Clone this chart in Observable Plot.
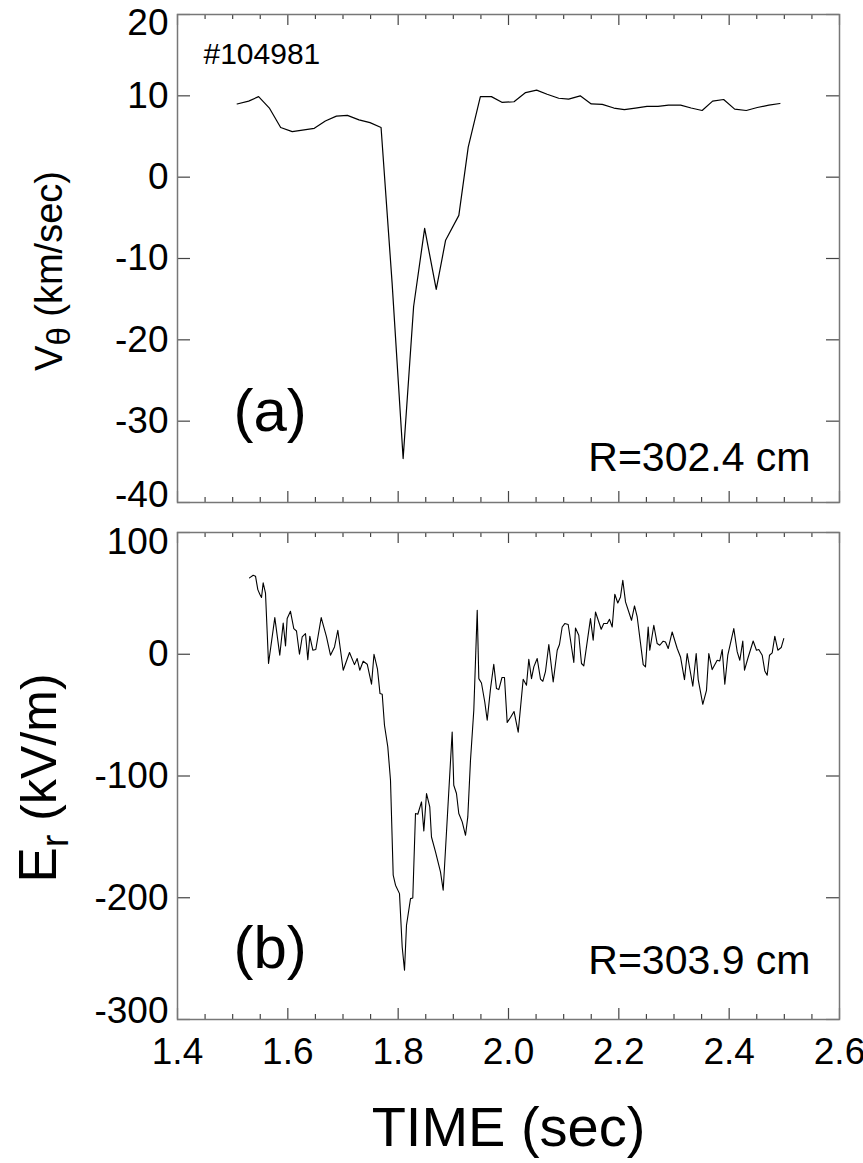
<!DOCTYPE html>
<html>
<head>
<meta charset="utf-8">
<script src="https://cdn.jsdelivr.net/npm/d3@7"></script>
<script src="https://cdn.jsdelivr.net/npm/@observablehq/plot@0.6"></script>
<style>
  html, body { margin: 0; padding: 0; background: #fff; }
  #chart svg { display: block; }
</style>
</head>
<body>
<div id="chart"></div>
<script>
// ---- Data ----
const shotLabel = "#104981";

// Panel (a): poloidal rotation velocity V_theta (km/sec) vs time (sec)
const vTime = [1.508, 1.529, 1.547, 1.567, 1.587, 1.608, 1.648, 1.668, 1.688, 1.708,
  1.729, 1.749, 1.769, 1.789, 1.809, 1.828, 1.848, 1.869, 1.886, 1.910,
  1.927, 1.949, 1.969, 1.988, 2.010, 2.031, 2.051, 2.070, 2.091, 2.109,
  2.130, 2.150, 2.170, 2.191, 2.210, 2.230, 2.251, 2.271, 2.290, 2.312,
  2.331, 2.351, 2.370, 2.390, 2.410, 2.431, 2.451, 2.472, 2.492];
const vTheta = [9.0, 9.35, 9.9, 8.45, 6.1, 5.6, 6.0, 6.9, 7.5, 7.6,
  7.05, 6.7, 6.1, -13, -34.6, -15.9, -6.3, -13.8, -7.75, -4.7,
  3.7, 9.9, 9.9, 9.2, 9.27, 10.4, 10.7, 10.2, 9.7, 9.6,
  10.0, 9.0, 8.95, 8.5, 8.3, 8.5, 8.7, 8.7, 8.85, 8.85,
  8.5, 8.2, 9.35, 9.55, 8.36, 8.2, 8.57, 8.85, 9.06];

// Panel (b): radial electric field E_r (kV/m) vs time (sec)
const eTime = [1.5305, 1.5372, 1.5414, 1.5456, 1.5492, 1.5523, 1.5553, 1.5595, 1.5650, 1.5764,
  1.5854, 1.5916, 1.5958, 1.5988, 1.6048, 1.6108, 1.6157, 1.6211, 1.6260, 1.6320,
  1.6362, 1.6398, 1.6453, 1.6507, 1.6605, 1.6701, 1.6773, 1.6846, 1.6906, 1.7004,
  1.7118, 1.7208, 1.7257, 1.7304, 1.7366, 1.7439, 1.7517, 1.7562, 1.7625, 1.7671,
  1.7711, 1.7752, 1.7812, 1.7861, 1.7910, 1.7952, 1.8024, 1.8073, 1.8115, 1.8151,
  1.8224, 1.8265, 1.8314, 1.8356, 1.8423, 1.8465, 1.8514, 1.8573, 1.8604, 1.8677,
  1.8767, 1.8816, 1.8979, 1.9008, 1.9057, 1.9099, 1.9161, 1.9221, 1.9262, 1.9311,
  1.9371, 1.9433, 1.9462, 1.9510, 1.9570, 1.9614, 1.9674, 1.9733, 1.9782, 1.9824,
  1.9882, 1.9927, 1.9976, 2.0036, 2.0100, 2.0176, 2.0266, 2.0326, 2.0368, 2.0417,
  2.0459, 2.0520, 2.0580, 2.0622, 2.0671, 2.0731, 2.0810, 2.0883, 2.0924, 2.0973,
  2.1020, 2.1082, 2.1184, 2.1214, 2.1274, 2.1323, 2.1365, 2.1486, 2.1535, 2.1577,
  2.1637, 2.1680, 2.1727, 2.1789, 2.1831, 2.1880, 2.1927, 2.1981, 2.2030, 2.2072,
  2.2121, 2.2230, 2.2284, 2.2333, 2.2442, 2.2483, 2.2532, 2.2561, 2.2634, 2.2695,
  2.2742, 2.2804, 2.2846, 2.2895, 2.2967, 2.3058, 2.3118, 2.3190, 2.3239, 2.3341,
  2.3402, 2.3439, 2.3522, 2.3589, 2.3631, 2.3692, 2.3783, 2.3830, 2.3874, 2.3921,
  2.3975, 2.4084, 2.4146, 2.4193, 2.4247, 2.4278, 2.4338, 2.4435, 2.4495, 2.4537,
  2.4599, 2.4646, 2.4689, 2.4731, 2.4780, 2.4827, 2.4882, 2.4943, 2.4990];
const eField = [62.7, 64.9, 64.1, 53.1, 49.3, 46.6, 58.6, 50.3, -7.6, 30.1,
  -0.8, 25.7, 6.8, 29.3, 35.3, 21.1, 19.1, 0, 14.2, 17,
  -4.4, 14.8, 3.3, 3.9, 30.1, 14.2, -0.8, 6, 19.7, -13.1,
  1.4, -8.5, -3.5, -13.1, -5.7, -8.2, -24.6, 0, -12.3, -32.3,
  -32.9, -58.3, -76.1, -103.5, -181.5, -189.7, -196.6, -240.4, -259.5, -222.6,
  -200.7, -200.2, -130.8, -131.4, -121.3, -145.1, -114.4, -125.4, -150.1, -162.4,
  -178.8, -193.8, -63.8, -107.6, -114.4, -130.8, -137.7, -148.7, -133.6, -87.1,
  -46, 36.1, -20, -23.6, -39.2, -54.2, -28.2, -8.2, -28.2, -29,
  -19.1, -19.1, -56, -52, -47, -64, -20.5, -25.5, -4.1, -20,
  -10.4, -3.5, -20.5, -22.2, -14, 8, -22.8, 3.3, 8, 22.4,
  25.2, 24.4, -6.8, 21.6, 15.6, -7.6, -9.6, 29.3, 11.5, 34.7,
  26.5, 20.5, 25.2, 25.2, 28.7, 22.4, 49.3, 42.1, 47.1, 60.8,
  43, 27.9, 39.7, 30.6, -8.5, -10.4, 22.4, 3.3, 23.8, 8.8,
  7.4, 10.7, 10.1, 4.7, 18.3, 4.7, -2.2, -20.8, 0.6, -26.3,
  0.6, -20.8, -41.1, -29.6, 0.6, -12.6, -4.9, -5.5, 3.9, -24.6,
  -0.8, 21.1, 1.9, -4.9, 10.9, -13.1, -3.5, 10.9, 3.3, 3.9,
  -0.8, -13.7, -17.2, -0.8, 1.1, 14.8, 3.3, 5.5, 12.9];

// Axis ticks
const xMajorTicks = [1.4, 1.6, 1.8, 2.0, 2.2, 2.4, 2.6];
const xMinorTicks = [1.45, 1.5, 1.55, 1.65, 1.7, 1.75, 1.85, 1.9, 1.95, 2.05, 2.1, 2.15,
  2.25, 2.3, 2.35, 2.45, 2.5, 2.55];
const vTicks = [-40, -30, -20, -10, 0, 10, 20];
const eTicks = [-300, -200, -100, 0, 100];

// Panel text
const panelA = {tag: "(a)", radius: "R=302.4 cm"};
const panelB = {tag: "(b)", radius: "R=303.9 cm"};
const xTitle = "TIME (sec)";

// ---- Drawing ----
const FONT = "'Liberation Sans', Arial, Helvetica, sans-serif";
const W = 863, ML = 177, MR = 24;
const FW = W - ML - MR;
const FRAME = "#777";
const TICK = "#444";

const vData = vTime.map((t, i) => ({t, v: vTheta[i]}));
const eData = eTime.map((t, i) => ({t, v: eField[i]}));

function frameTicks(yTicks, FH) {
  return [
    Plot.tickY(yTicks, {y: d => d, insetRight: FW - 13, stroke: TICK, strokeWidth: 1.2}),
    Plot.tickY(yTicks, {y: d => d, insetLeft: FW - 13, stroke: TICK, strokeWidth: 1.2}),
    Plot.tickX(xMajorTicks, {x: d => d, insetTop: FH - 11, stroke: TICK, strokeWidth: 1.2}),
    Plot.tickX(xMajorTicks, {x: d => d, insetBottom: FH - 11, stroke: TICK, strokeWidth: 1.2}),
    Plot.tickX(xMinorTicks, {x: d => d, insetTop: FH - 5, stroke: TICK, strokeWidth: 1.2}),
    Plot.tickX(xMinorTicks, {x: d => d, insetBottom: FH - 5, stroke: TICK, strokeWidth: 1.2}),
    Plot.frame({stroke: FRAME, strokeWidth: 1.5})
  ];
}

// y tick labels: the end labels sit slightly inside the frame, as in the reference
function yLabels(ticks, topShift, bottomShift) {
  const lo = d3.min(ticks), hi = d3.max(ticks);
  const common = {anchor: "left", tickSize: 0, tickPadding: 9, tickFormat: d => String(d), label: null, fontSize: 37};
  return [
    Plot.axisY(ticks.filter(d => d !== lo && d !== hi), common),
    Plot.axisY([hi], {...common, dy: topShift}),
    Plot.axisY([lo], {...common, dy: bottomShift})
  ];
}

// Top panel
const topH = 520, topMT = 14, topMB = 18;
const topFH = topH - topMT - topMB;
const topPlot = Plot.plot({
  width: W, height: topH,
  marginLeft: ML, marginRight: MR, marginTop: topMT, marginBottom: topMB,
  style: {fontFamily: FONT, fontSize: "37px", background: "#fff", color: "#000", overflow: "visible"},
  x: {domain: [1.4, 2.6], axis: null},
  y: {domain: [-40, 20]},
  marks: [
    Plot.line(vData, {x: "t", y: "v", stroke: "#000", strokeWidth: 1.2}),
    ...frameTicks(vTicks, topFH),
    ...yLabels(vTicks, 9, -7),
    Plot.text([shotLabel], {text: d => d, frameAnchor: "top-left", textAnchor: "start", lineAnchor: "bottom", dx: 26, dy: 49, fontSize: 30}),
    Plot.text([panelA.tag], {text: d => d, frameAnchor: "bottom-left", textAnchor: "start", lineAnchor: "bottom", dx: 56, dy: -72, fontSize: 60}),
    Plot.text([panelA.radius], {text: d => d, frameAnchor: "bottom-right", textAnchor: "end", lineAnchor: "bottom", dx: -29, dy: -32, fontSize: 41})
  ]
});

// Bottom panel
const botH = 643, botMT = 12, botMB = 144;
const botFH = botH - botMT - botMB;
const botPlot = Plot.plot({
  width: W, height: botH,
  marginLeft: ML, marginRight: MR, marginTop: botMT, marginBottom: botMB,
  style: {fontFamily: FONT, fontSize: "37px", background: "#fff", color: "#000", overflow: "visible"},
  x: {domain: [1.4, 2.6]},
  y: {domain: [-300, 100]},
  marks: [
    Plot.line(eData, {x: "t", y: "v", stroke: "#000", strokeWidth: 1.1}),
    ...frameTicks(eTicks, botFH),
    ...yLabels(eTicks, 10, -8),
    Plot.axisX(xMajorTicks, {anchor: "bottom", tickSize: 0, tickPadding: 18, tickFormat: d => d.toFixed(1), label: null, fontSize: 37}),
    Plot.text([panelB.tag], {text: d => d, frameAnchor: "bottom-left", textAnchor: "start", lineAnchor: "bottom", dx: 56, dy: -52, fontSize: 60}),
    Plot.text([panelB.radius], {text: d => d, frameAnchor: "bottom-right", textAnchor: "end", lineAnchor: "bottom", dx: -29, dy: -46, fontSize: 41}),
    Plot.text([xTitle], {text: d => d, frameAnchor: "bottom", textAnchor: "middle", lineAnchor: "bottom", dy: 126, fontSize: 56})
  ]
});

// Y-axis titles with subscripts
function addYTitle(svg, x, y, parts) {
  const t = d3.select(svg).append("text")
    .attr("transform", `translate(${x},${y}) rotate(-90)`)
    .attr("text-anchor", "middle")
    .attr("font-family", FONT)
    .attr("fill", "#000");
  for (const p of parts) {
    const s = t.append("tspan").text(p.text).attr("font-size", p.size);
    if (p.dy) s.attr("dy", p.dy);
  }
}
addYTitle(topPlot, 62, 271, [
  {text: "V", size: 38},
  {text: "θ", size: 33, dy: 8},
  {text: " (km/sec)", size: 38, dy: -8}
]);
addYTitle(botPlot, 56, 258, [
  {text: "E", size: 53},
  {text: "r", size: 38, dy: 12},
  {text: " (kV/m)", size: 50, dy: -12}
]);

const chart = document.getElementById("chart");
chart.appendChild(topPlot);
chart.appendChild(botPlot);
</script>
</body>
</html>
